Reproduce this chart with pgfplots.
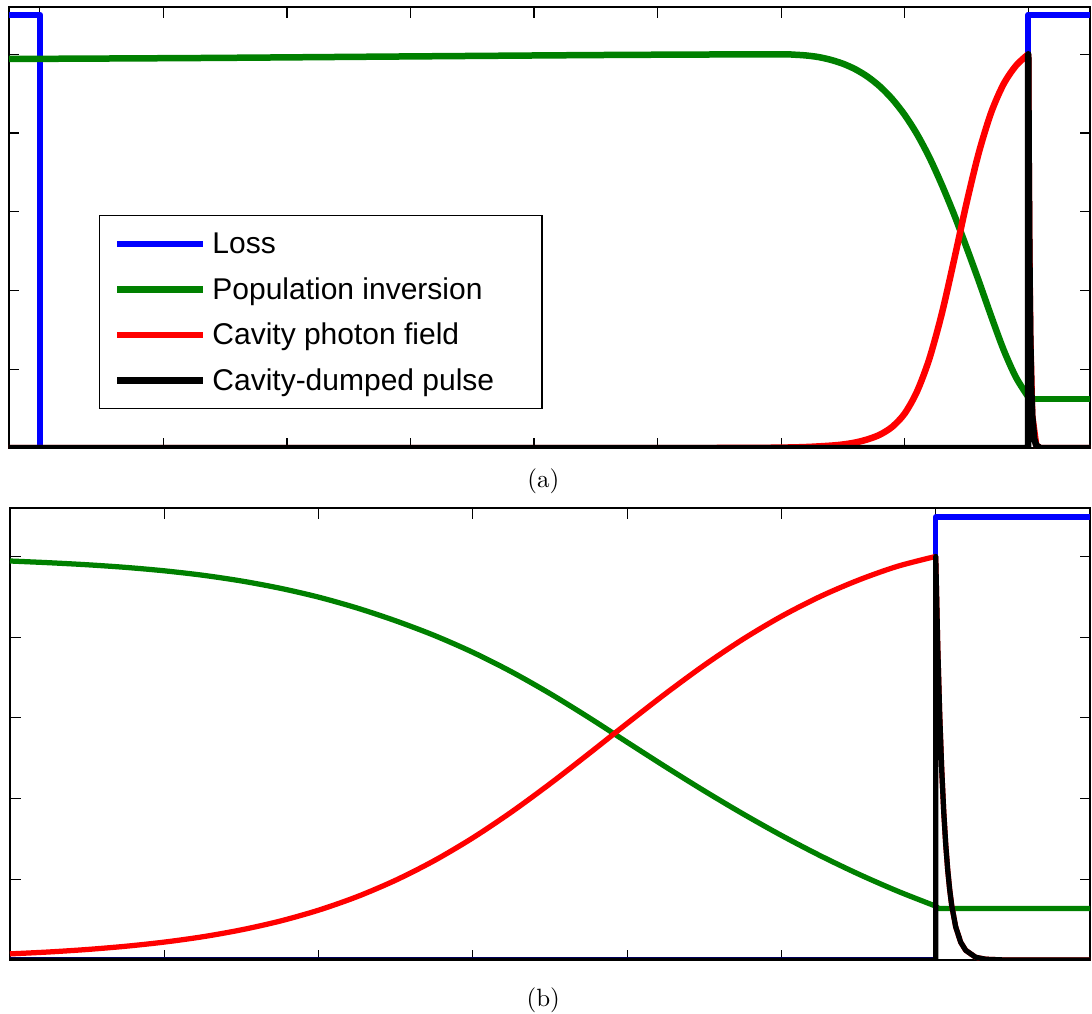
\documentclass[border=0pt]{standalone}
\usepackage{fontspec}
\usepackage{pgfplots}
\pgfplotsset{compat=1.18}
\newfontfamily\legendfont{Liberation Sans}
\definecolor{lossblue}{RGB}{0,0,255}
\definecolor{invgreen}{RGB}{0,128,0}
\definecolor{fieldred}{RGB}{255,0,0}

\pgfplotsset{
  pulseaxis/.style={
    scale only axis,
    tick align=inside, tick pos=both,
    major tick length=4.2pt,
    xticklabel=\empty, yticklabel=\empty,
    ymin=0, ymax=1.12,
    ytick={0.2,0.4,0.6,0.8,1.0},
    axis line style={line width=0.5pt},
    every tick/.style={black, line width=0.45pt},
  },
  curveA/.style={line width=2.6pt, line join=round},
  curveB/.style={line width=2.1pt, line join=round},
}

\begin{document}
\begin{tikzpicture}
\useasboundingbox (0,0) rectangle (436.8pt,-405.2pt);

% (a) full switching cycle
\begin{axis}[pulseaxis,
  at={(3.6pt,-2.8pt)}, anchor=north west,
  width=432.4pt, height=176.4pt,
  xmin=-0.25, xmax=8.5, xtick={0,...,8},
  legend cell align=left,
  legend image code/.code={\draw[#1] (0pt,0pt) -- (34.4pt,0pt);},
  legend style={at={(0.0833,0.5283)}, anchor=north west,
    draw=black, line width=0.5pt, fill=white,
    inner xsep=5.8pt, inner ysep=5.3pt, row sep=6.2pt, column sep=2.3pt,
    nodes={inner sep=0pt, text height=10pt, text depth=2pt,
      font=\legendfont\fontsize{12}{14}\selectfont}},
]
\addplot[lossblue, curveA] coordinates {
  (-0.25,1.1) (0,1.1) (0,0) (8,0) (8,1.1) (8.5,1.1)};
\addlegendentry{\makebox[126pt][l]{Loss}}

\addplot[invgreen, curveA, smooth] coordinates {
  (-0.25,0.988) (1.3,0.9905) (2.9,0.9943) (4.5,0.998) (5.5,0.9995)
  (6.0,1.0) (6.1,0.999) (6.2,0.997) (6.3,0.993) (6.4,0.986) (6.5,0.976)
  (6.6,0.962) (6.7,0.943) (6.8,0.918) (6.9,0.886) (7.0,0.846) (7.1,0.797)
  (7.2,0.738) (7.3,0.669) (7.4,0.593) (7.5,0.510) (7.6,0.424) (7.7,0.335)
  (7.8,0.250) (7.9,0.180) (8.0,0.130)};
\addlegendentry{\makebox[126pt][l]{Population inversion}}

\addplot[fieldred, curveA, smooth] coordinates {
  (-0.25,0) (5.0,0) (5.5,0.0001) (5.8,0.0004) (6.0,0.001) (6.2,0.0025)
  (6.4,0.006) (6.5,0.009) (6.6,0.014) (6.7,0.022) (6.8,0.034) (6.9,0.054)
  (7.0,0.0876) (7.1,0.1437) (7.2,0.2271) (7.3,0.3407) (7.4,0.4778)
  (7.5,0.621) (7.6,0.750) (7.7,0.852) (7.8,0.924) (7.9,0.9707) (8.0,1.0)};
\addlegendentry{\makebox[126pt][l]{Cavity photon field}}

% after the dump: inversion stays, field leaves with the pulse
\addplot[invgreen, curveA, forget plot] coordinates {
  (8,0.130) (8,0.124) (8.5,0.124)};
\addplot[fieldred, curveA, forget plot] coordinates {
  (8,1.0) (8.00405,0.73) (8.00809,0.535) (8.01618,0.287) (8.03236,0.082)
  (8.06472,0.0067) (8.0971,0) (8.5,0)};

\addplot[black, curveA] coordinates {
  (-0.25,0) (8,0) (8,1) (8.00405,0.73) (8.00809,0.535) (8.01214,0.39)
  (8.01618,0.287) (8.02427,0.153) (8.03236,0.082) (8.04854,0.0235)
  (8.06472,0.0067) (8.0971,0) (8.5,0)};
\addlegendentry{\makebox[126pt][l]{Cavity-dumped pulse}}
\end{axis}
\node at (217.3pt,-192.3pt) {(a)};

% (b) build-up and dump in detail
\begin{axis}[pulseaxis,
  at={(4pt,-203.2pt)}, anchor=north west,
  width=432pt, height=180.8pt,
  xmin=0, xmax=7, xtick={1,...,6},
]
\addplot[lossblue, curveB] coordinates {
  (0,0) (6,0) (6,1.098) (7,1.098)};

\addplot[invgreen, curveB, smooth] coordinates {
  (0,0.9887) (0.25,0.9845) (0.5,0.9794) (0.75,0.9729) (1.0,0.9644)
  (1.25,0.9534) (1.5,0.9392) (1.75,0.9213) (2.0,0.8992) (2.25,0.8722)
  (2.5,0.8405) (2.75,0.8043) (3.0,0.7624) (3.25,0.7143) (3.5,0.6602)
  (3.75,0.6013) (4.0,0.5397) (4.25,0.4785) (4.5,0.4191) (4.75,0.3623)
  (5.0,0.3087) (5.25,0.2588) (5.5,0.2129) (5.75,0.1711) (6.0,0.1335)};
\addplot[invgreen, curveB] coordinates {
  (6,0.1335) (6.02,0.1276) (7,0.1276)};

\addplot[fieldred, curveB, smooth] coordinates {
  (0,0.0152) (0.25,0.0199) (0.5,0.0261) (0.75,0.0341) (1.0,0.0444)
  (1.25,0.0577) (1.5,0.0748) (1.75,0.0964) (2.0,0.1235) (2.25,0.157)
  (2.5,0.1978) (2.75,0.2463) (3.0,0.3028) (3.25,0.3667) (3.5,0.4367)
  (3.75,0.5107) (4.0,0.5863) (4.25,0.6604) (4.5,0.7306) (4.75,0.7948)
  (5.0,0.8516) (5.25,0.9005) (5.5,0.9415) (5.75,0.9753) (6.0,1.0)};
\addplot[fieldred, curveB] coordinates {
  (6,1.0) (6.0130,0.779) (6.0259,0.607) (6.0389,0.472) (6.0519,0.368)
  (6.0648,0.287) (6.0778,0.223) (6.0907,0.174) (6.1037,0.135)
  (6.1296,0.082) (6.1620,0.044) (6.1944,0.024) (6.2593,0.0067)
  (6.3241,0.0019) (6.4537,0) (7,0)};

\addplot[black, curveB] coordinates {
  (0,0) (6,0) (6,1) (6.0130,0.779) (6.0259,0.607) (6.0389,0.472)
  (6.0519,0.368) (6.0648,0.287) (6.0778,0.223) (6.0907,0.174)
  (6.1037,0.135) (6.1296,0.082) (6.1620,0.044) (6.1944,0.024)
  (6.2593,0.0067) (6.3241,0.0019) (6.4537,0) (7,0)};
\end{axis}
\node at (217.3pt,-400.2pt) {(b)};
\end{tikzpicture}
\end{document}
